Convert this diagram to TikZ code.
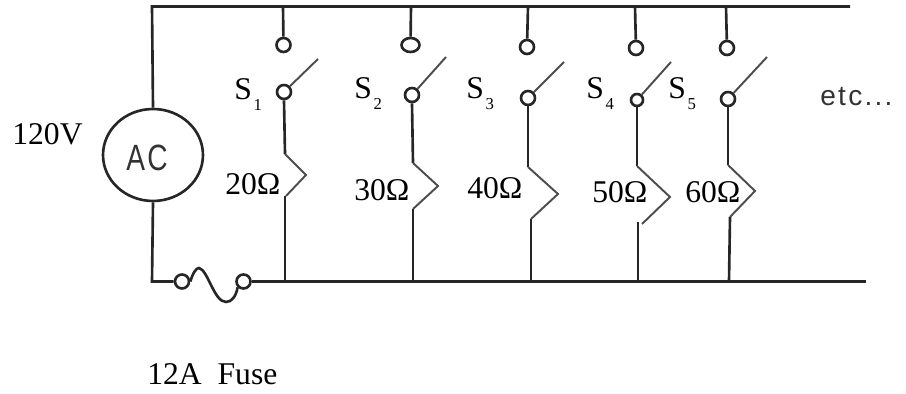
\documentclass[tikz,border=0pt]{standalone}
\usepackage{fontspec}
\setmainfont{Liberation Serif}
\newfontfamily\panelfont[LetterSpace=8]{Liberation Sans}
\usetikzlibrary{shapes.geometric}
\newcommand{\swsub}[1]{S\hspace{0.05em}\raisebox{-5.8pt}{\fontsize{9.5pt}{10pt}\selectfont #1}}
\tikzset{
  wire/.style = {line width=1.5pt, black!85},
  blade/.style = {line width=1.1pt, black!70},
  term/.style = {draw, circle, line width=1.5pt, black!85, minimum size=0.28cm, inner sep=0pt},
  lab/.style = {anchor=base west, inner sep=0pt, font=\fontsize{18pt}{20pt}\selectfont},
  sanslab/.style = {anchor=base west, inner sep=0pt, black!80, font=\panelfont\fontsize{16pt}{18pt}\selectfont}
}
\begin{document}
\begin{tikzpicture}[x=0.02cm, y=-0.02cm]
\useasboundingbox (0,0) rectangle (906,394);
%% source and rails
\node (ac) [draw, ellipse, line width=1.5pt, black!85, minimum width=2cm, minimum height=1.84cm, inner sep=0pt] at (153,155) {};
\node (fuseL) [term] at (182,281.5) {};
\node (fuseR) [term] at (243.5,281.5) {};
\coordinate (topL) at (152,6.5);
\coordinate (topR) at (850,6.5);
\coordinate (botL) at (152,281.5);
\coordinate (botR) at (866,281.5);
\draw [wire] (ac.north) -- (topL) -- (topR);
\draw [wire] (ac.south) -- (botL) -- (fuseL);
\draw [wire] (fuseR) -- (botR);
%% fuse
\draw [wire] (fuseL.east) .. controls (193,273) and (196,268) .. (199,268)
  .. controls (208,270) and (214,302) .. (226,302)
  .. controls (232,302) and (236,296) .. (fuseR.south west);
%% branch 1
\coordinate (top1) at (283,6.5);
\node (up1) [term] at (283.5,45) {};
\node (sw1) [term] at (284,92) {};
\coordinate (tip1) at (318,59);
\coordinate (ra1) at (285,154);
\coordinate (rb1) at (306,175);
\coordinate (rc1) at (286,196);
\coordinate (rd1) at (285,196);
\coordinate (bot1) at (285,281.5);
\draw [wire] (top1) -- (up1);
\draw [blade] (sw1) -- (tip1);
\draw [wire] (sw1.south) -- (ra1);
\draw [blade] (ra1) -- (rb1) -- (rc1);
\draw [wire] (rd1) -- (bot1);
%% branch 2
\coordinate (top2) at (411,6.5);
\node (up2) [term, minimum width=0.36cm, ellipse] at (410.5,45) {};
\node (sw2) [term] at (412,95) {};
\coordinate (tip2) at (446,57);
\coordinate (ra2) at (413,163);
\coordinate (rb2) at (438,186);
\coordinate (rc2) at (413,209);
\coordinate (bot2) at (413,281.5);
\draw [wire] (top2) -- (up2);
\draw [blade] (sw2) -- (tip2);
\draw [wire] (sw2.south) -- (ra2);
\draw [blade] (ra2) -- (rb2) -- (rc2);
\draw [wire] (rc2) -- (bot2);
%% branch 3
\coordinate (top3) at (528,6.5);
\node (up3) [term] at (527,47) {};
\node (sw3) [term] at (528,98) {};
\coordinate (tip3) at (564,62);
\coordinate (ra3) at (528,167);
\coordinate (rb3) at (558,194);
\coordinate (rc3) at (531,219);
\coordinate (bot3) at (531,281.5);
\draw [wire] (top3) -- (up3);
\draw [blade] (sw3) -- (tip3);
\draw [wire] (sw3.south) -- (ra3);
\draw [blade] (ra3) -- (rb3) -- (rc3);
\draw [wire] (rc3) -- (bot3);
%% branch 4
\coordinate (top4) at (635,6.5);
\node (up4) [term] at (636,48) {};
\node (sw4) [term, minimum size=0.24cm] at (637,100) {};
\coordinate (tip4) at (671,62);
\coordinate (ra4) at (637,166);
\coordinate (rb4) at (670,197);
\coordinate (rc4) at (642,224);
\coordinate (rd4) at (638,222);
\coordinate (bot4) at (638,281.5);
\draw [wire] (top4) -- (up4);
\draw [blade] (sw4) -- (tip4);
\draw [wire] (sw4.south) -- (ra4);
\draw [blade] (ra4) -- (rb4) -- (rc4);
\draw [wire] (rd4) -- (bot4);
%% branch 5
\coordinate (top5) at (726,6.5);
\node (up5) [term] at (727,48) {};
\node (sw5) [term] at (728,99) {};
\coordinate (tip5) at (767,57);
\coordinate (ra5) at (728,165);
\coordinate (rb5) at (755,191);
\coordinate (rc5) at (730,217);
\coordinate (bot5) at (729,281.5);
\draw [wire] (top5) -- (up5);
\draw [blade] (sw5) -- (tip5);
\draw [wire] (sw5.south) -- (ra5);
\draw [blade] (ra5) -- (rb5) -- (rc5);
\draw [wire] (rc5) -- (bot5);
%% labels
\node (volt) [lab] at (12,145) {120V};
\node (fuse) [lab] at (147,385) {12A\ \ Fuse};
\node (aclab) [sanslab] at (126,171) {\scalebox{1}[1.3]{AC}};
\node (etc) [sanslab] at (820,106) {etc...};
\node (s1) [lab] at (234,100) {\swsub{1}};
\node (s2) [lab] at (354,99) {\swsub{2}};
\node (s3) [lab] at (466,99) {\swsub{3}};
\node (s4) [lab] at (586,99) {\swsub{4}};
\node (s5) [lab] at (668,99) {\swsub{5}};
\node (r1) [lab] at (225,195) {20Ω};
\node (r2) [lab] at (354,201) {30Ω};
\node (r3) [lab] at (467,199) {40Ω};
\node (r4) [lab] at (592,203) {50Ω};
\node (r5) [lab] at (685,203) {60Ω};
\end{tikzpicture}
\end{document}
